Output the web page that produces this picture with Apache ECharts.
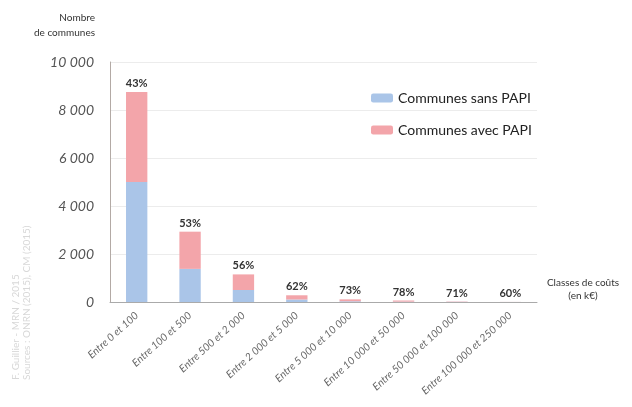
<!DOCTYPE html>
<html>
<head>
<meta charset="utf-8">
<script src="https://cdn.jsdelivr.net/npm/echarts@6/dist/echarts.min.js"></script>
<style>
  html, body { margin: 0; padding: 0; background: #fff; }
  #main { width: 632px; height: 407px; }
</style>
</head>
<body>
<div id="main"></div>
<script>
// classes de coûts (en k€)
var categories = ['Entre 0 et 100', 'Entre 100 et 500', 'Entre 500 et 2 000', 'Entre 2 000 et 5 000',
  'Entre 5 000 et 10 000', 'Entre 10 000 et 50 000', 'Entre 50 000 et 100 000', 'Entre 100 000 et 250 000'];
var sansPapi = [5000, 1380, 500, 105, 30, 14, 6, 2];
var avecPapi = [3750, 1550, 650, 175, 80, 48, 14, 3];
var pctLabels = ['43%', '53%', '56%', '62%', '73%', '78%', '71%', '60%'];
var yTicks = [0, 2000, 4000, 6000, 8000, 10000];

var chartDom = document.getElementById('main');
var myChart = echarts.init(chartDom);
var option;

function fmtNum(v) {
  return String(v).replace(/\B(?=(\d{3})+(?!\d))/g, ' ');
}

option = {
  animation: false,
  textStyle: { fontFamily: 'Lato' },
  grid: { left: 110, right: 95, top: 62, bottom: 105 },
  legend: {
    orient: 'vertical',
    left: 366,
    top: 86,
    itemWidth: 22,
    itemHeight: 9,
    itemGap: 18,
    textStyle: { fontSize: 14, color: '#222' },
    data: ['Communes sans PAPI', 'Communes avec PAPI']
  },
  xAxis: {
    type: 'category',
    data: categories,
    name: 'Classes de coûts\n(en k€)',
    nameLocation: 'end',
    nameGap: 46,
    nameTextStyle: { fontSize: 10, color: '#333', align: 'center', verticalAlign: 'bottom', lineHeight: 13 },
    axisLine: { lineStyle: { color: '#aaa' } },
    axisTick: { show: false },
    axisLabel: { rotate: 42, fontSize: 10.5, color: '#666', fontStyle: 'italic', margin: 12, interval: 0 }
  },
  yAxis: {
    type: 'value',
    min: 0,
    max: yTicks[yTicks.length - 1],
    interval: yTicks[1] - yTicks[0],
    name: 'Nombre\nde communes',
    nameLocation: 'end',
    nameGap: 22,
    nameTextStyle: { fontSize: 10, color: '#333', align: 'right', lineHeight: 15, padding: [0, 15, 0, 0] },
    axisLine: { show: true, lineStyle: { color: '#b3aaa5' } },
    axisTick: { show: false },
    axisLabel: { fontSize: 14, color: '#555', fontStyle: 'italic', margin: 16, formatter: fmtNum },
    splitLine: { lineStyle: { color: '#ececec' } }
  },
  graphic: [
    {
      type: 'text', x: 11, y: 380, rotation: Math.PI / 2,
      style: { text: 'F. Guillier - MRN / 2015', fontSize: 10, fill: '#d8d8d8', fontFamily: 'Lato' }
    },
    {
      type: 'text', x: 22, y: 380, rotation: Math.PI / 2,
      style: { text: 'Sources : ONRN (2015), CM (2015)', fontSize: 10, fill: '#d8d8d8', fontFamily: 'Lato' }
    }
  ],
  series: [
    {
      name: 'Communes sans PAPI',
      type: 'bar',
      stack: 'total',
      barWidth: '40%',
      itemStyle: { color: '#aac5e8' },
      data: sansPapi
    },
    {
      name: 'Communes avec PAPI',
      type: 'bar',
      stack: 'total',
      barWidth: '40%',
      itemStyle: { color: '#f3a5aa' },
      label: {
        show: true,
        position: 'top',
        distance: 3,
        fontSize: 11,
        color: '#333',
        fontWeight: 'bold',
        formatter: function (p) { return pctLabels[p.dataIndex]; }
      },
      data: avecPapi
    }
  ]
};

option && myChart.setOption(option);
</script>
</body>
</html>
